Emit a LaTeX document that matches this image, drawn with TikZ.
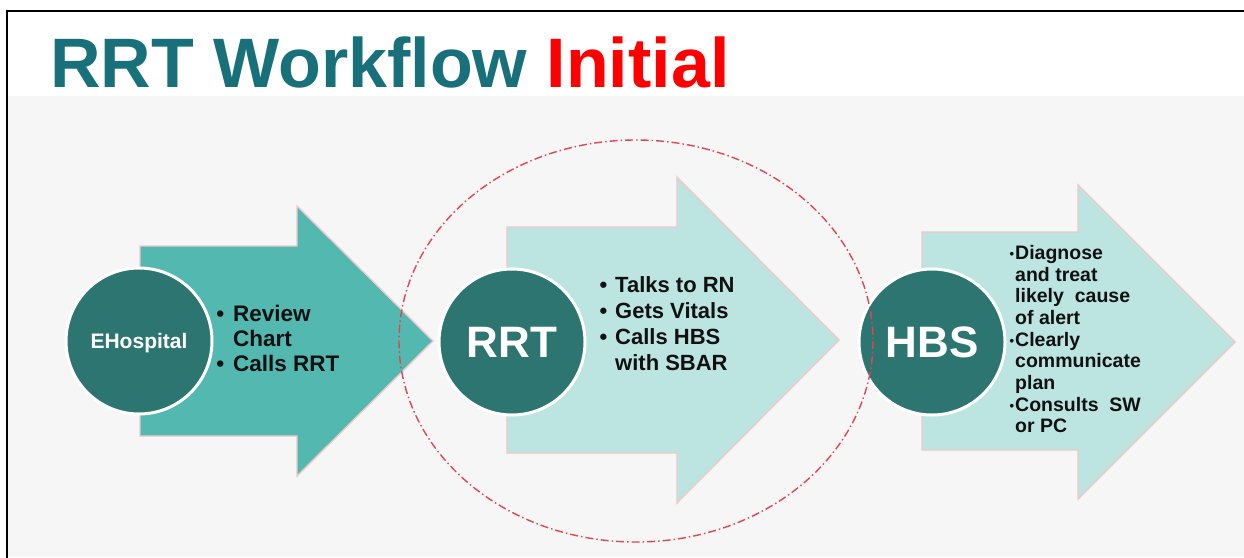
\documentclass[tikz,border=0pt]{standalone}
\usepackage{fontspec}
\setmainfont{Liberation Sans}
\definecolor{titlec}{HTML}{17707A}
\definecolor{redc}{HTML}{FF0000}
\definecolor{hubc}{HTML}{2D7570}
\definecolor{darkarrow}{HTML}{52B8B0}
\definecolor{lightarrow}{HTML}{BCE5E2}
\definecolor{edgec}{HTML}{EEC9C9}
\definecolor{ovalc}{HTML}{E04556}
\definecolor{bgc}{HTML}{F6F6F6}
\definecolor{textc}{HTML}{111111}
\tikzset{
  hub/.style={circle, fill=hubc, draw=white, line width=3pt, minimum size=146pt,
    inner sep=0pt, text=white, text depth=0pt},
  arrowshape/.style={draw=edgec, line width=1.4pt, line join=miter},
  bodytext/.style={anchor=north west, inner sep=0pt, align=left, text=textc},
  oval/.style={draw=ovalc, line width=1.4pt, dash pattern=on 8pt off 3pt on 1.5pt off 3pt}
}
\newcommand{\bul}[1]{\llap{\textbullet\hspace{#1}}}
\newcommand{\sbul}{\llap{\raisebox{1pt}{\fontsize{13}{13}\selectfont\textbullet}\hspace{1pt}}}
\begin{document}
\begin{tikzpicture}[x=1pt,y=-1pt]
\useasboundingbox (0,0) rectangle (1244,557);
% background
\fill[white] (0,0) rectangle (1244,557);
\fill[bgc] (8,96) rectangle (1244,557);
% frame
\draw[line width=2.5pt, line cap=rect] (7,557) -- (7,11) -- (1244,11);
% title
\node[anchor=base west, inner sep=0pt, font=\bfseries\fontsize{70}{70}\selectfont] (title) at (50,87)
  {\textcolor{titlec}{RRT Workflow} \textcolor{redc}{Initial}};
% arrows
\draw[arrowshape, fill=darkarrow] (140,246) -- (297,246) -- (297,206) -- (433,341)
  -- (297,476) -- (297,436) -- (140,436) -- cycle;
\draw[arrowshape, fill=lightarrow] (507,227) -- (677,227) -- (677,177) -- (839,340)
  -- (677,503) -- (677,453) -- (507,453) -- cycle;
\draw[arrowshape, fill=lightarrow] (922,232) -- (1078,232) -- (1078,185) -- (1235,342)
  -- (1078,499) -- (1078,450) -- (922,450) -- cycle;
% hubs
\node[hub, font=\bfseries\fontsize{21}{21}\selectfont] (ehosp) at (139,341) {EHospital};
\node[hub, font=\bfseries\fontsize{44}{44}\selectfont] (rrt) at (512,342) {RRT};
\node[hub, font=\bfseries\fontsize{44}{44}\selectfont] (hbs) at (932,342) {HBS};
% texts
\node[bodytext, font=\bfseries\fontsize{22.5}{25}\selectfont] (t1) at (233,305)
  {\bul{9pt}Review\\Chart\\\bul{9pt}Calls RRT};
\node[bodytext, font=\bfseries\fontsize{22}{26}\selectfont] (t2) at (615,276)
  {\bul{8pt}Talks to RN\\\bul{8pt}Gets Vitals\\\bul{8pt}Calls HBS\\with SBAR};
\node[bodytext, font=\bfseries\fontsize{19.5}{21.7}\selectfont] (t3) at (1015,245)
  {\sbul Diagnose\\and treat\\likely\ \ cause\\of alert\\\sbul Clearly\\communicate\\plan\\\sbul Consults\ \ SW\\or PC};
% dashed oval
\draw[oval] (636,341) ellipse [x radius=237, y radius=201];
\end{tikzpicture}
\end{document}
